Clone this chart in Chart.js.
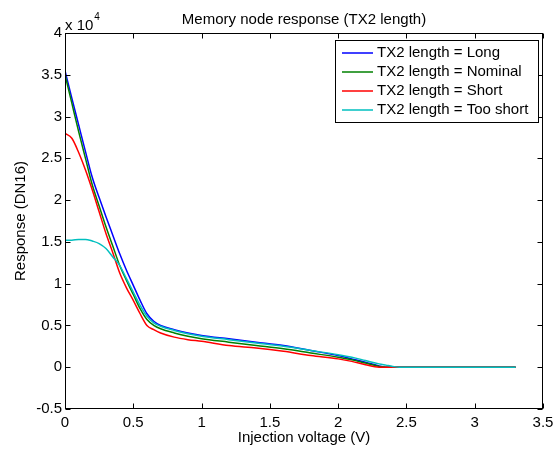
<!DOCTYPE html>
<html>
<head>
<meta charset="utf-8">
<script src="https://cdn.jsdelivr.net/npm/chart.js@4/dist/chart.umd.min.js"></script>
<style>
  html, body { margin: 0; padding: 0; background: #fff; }
</style>
</head>
<body>
<canvas id="chart" width="560" height="449"></canvas>
<script>
// Injection voltage (V)
const voltage = [0, 0.05, 0.1, 0.15, 0.2, 0.25, 0.3, 0.35, 0.4, 0.45, 0.5, 0.55, 0.6, 0.65, 0.7, 0.8, 0.9, 1.0,
                 1.2, 1.4, 1.6, 1.8, 2.0, 2.1, 2.2, 2.3, 2.35, 2.4, 2.45, 2.5, 3.0, 3.3];

// Response (DN16), in units of 1e4
const respLong     = [3.55, 3.22, 2.9, 2.58, 2.27, 2.03, 1.8, 1.58, 1.36, 1.16, 0.98, 0.8, 0.64, 0.55, 0.5, 0.45, 0.41, 0.38,
                      0.34, 0.30, 0.26, 0.20, 0.14, 0.10, 0.06, 0.015, 0, 0, 0, 0, 0, 0];
const respNominal  = [3.5, 3.16, 2.82, 2.5, 2.18, 1.93, 1.68, 1.45, 1.22, 1.04, 0.87, 0.70, 0.57, 0.50, 0.46, 0.41, 0.37, 0.34,
                      0.30, 0.26, 0.22, 0.17, 0.12, 0.09, 0.05, 0.01, 0, 0, 0, 0, 0, 0];
const respShort    = [2.8, 2.74, 2.57, 2.36, 2.12, 1.86, 1.6, 1.37, 1.13, 0.95, 0.8, 0.64, 0.50, 0.45, 0.41, 0.36, 0.33, 0.31,
                      0.26, 0.23, 0.19, 0.14, 0.10, 0.07, 0.03, 0, 0, 0, 0, 0, 0, 0];
const respTooShort = [1.52, 1.52, 1.53, 1.53, 1.51, 1.48, 1.42, 1.32, 1.22, 1.06, 0.9, 0.74, 0.61, 0.53, 0.49, 0.44, 0.40, 0.37,
                      0.33, 0.29, 0.25, 0.20, 0.15, 0.12, 0.08, 0.04, 0.025, 0.01, 0, 0, 0, 0];

const seriesLabels = ['TX2 length = Long', 'TX2 length = Nominal', 'TX2 length = Short', 'TX2 length = Too short'];
const seriesColors = ['#0000ff', '#008000', '#ff0000', '#00bfbf'];

const FONT = 'Arial, "Liberation Sans", Helvetica, sans-serif';
const FS = 15;

function toPoints(ys) {
    return voltage.map((v, i) => ({ x: v, y: ys[i] }));
}

// boite + graduations vers l'interieur, titre, legende
const matlabAxes = {
    id: 'matlabAxes',
    afterDraw(chart) {
        const { ctx, chartArea: a, scales: { x, y } } = chart;
        ctx.save();
        ctx.strokeStyle = '#000';
        ctx.lineWidth = 1;
        const L = Math.round(a.left) + 0.5, R = Math.round(a.right) - 0.5;
        const T = Math.round(a.top) + 0.5, B = Math.round(a.bottom) - 0.5;
        ctx.strokeRect(L, T, R - L, B - T);

        const tl = 5;
        ctx.beginPath();
        x.ticks.forEach(t => {
            const px = Math.round(x.getPixelForValue(t.value)) + 0.5;
            ctx.moveTo(px, B); ctx.lineTo(px, B - tl);
            ctx.moveTo(px, T); ctx.lineTo(px, T + tl);
        });
        y.ticks.forEach(t => {
            const py = Math.round(y.getPixelForValue(t.value)) + 0.5;
            ctx.moveTo(L, py); ctx.lineTo(L + tl, py);
            ctx.moveTo(R, py); ctx.lineTo(R - tl, py);
        });
        ctx.stroke();

        // titre
        ctx.fillStyle = '#000';
        ctx.font = FS + 'px ' + FONT;
        ctx.textAlign = 'center';
        ctx.textBaseline = 'alphabetic';
        ctx.fillText('Memory node response (TX2 length)', (a.left + a.right) / 2, 24);

        // multiplicateur
        ctx.textAlign = 'left';
        ctx.fillText('x 10', a.left, 30);
        const w = ctx.measureText('x 10').width;
        ctx.font = '10px ' + FONT;
        ctx.fillText('4', a.left + w + 1, 20);

        // legende
        const bx = 335.5, by = 40.5, bw = 203, bh = 82;
        ctx.fillStyle = '#fff';
        ctx.fillRect(bx, by, bw, bh);
        ctx.strokeRect(bx, by, bw, bh);
        ctx.font = FS + 'px ' + FONT;
        ctx.textBaseline = 'middle';
        chart.data.datasets.forEach((ds, i) => {
            const cy = 53 + i * 19;
            ctx.strokeStyle = ds.borderColor;
            ctx.lineWidth = 1.5;
            ctx.beginPath();
            ctx.moveTo(342, cy); ctx.lineTo(373, cy);
            ctx.stroke();
            ctx.fillStyle = '#000';
            ctx.fillText(ds.label, 377, cy);
        });
        ctx.restore();
    }
};

new Chart(document.getElementById('chart'), {
    type: 'line',
    data: {
        datasets: [respLong, respNominal, respShort, respTooShort].map((ys, i) => ({
            label: seriesLabels[i],
            data: toPoints(ys),
            borderColor: seriesColors[i],
            backgroundColor: seriesColors[i],
            borderWidth: 1.5,
            pointRadius: 0,
            fill: false,
            cubicInterpolationMode: 'monotone',
            order: 3 - i
        }))
    },
    options: {
        responsive: false,
        animation: false,
        layout: { padding: { top: 33, right: 17, left: 0, bottom: 0 } },
        plugins: {
            legend: { display: false },
            tooltip: { enabled: false },
            title: { display: false }
        },
        scales: {
            x: {
                type: 'linear',
                min: 0,
                max: 3.5,
                grid: { display: false, drawTicks: false },
                border: { display: false },
                ticks: {
                    stepSize: 0.5,
                    autoSkip: false,
                    maxRotation: 0,
                    padding: 5,
                    color: '#000',
                    font: { family: FONT, size: FS },
                    callback: v => String(v)
                },
                title: {
                    display: true,
                    text: 'Injection voltage (V)',
                    color: '#000',
                    font: { family: FONT, size: FS },
                    padding: { top: 0, bottom: 2 }
                },
                afterFit: s => { s.height = 40; }
            },
            y: {
                min: -0.5,
                max: 4,
                grid: { display: false, drawTicks: false },
                border: { display: false },
                ticks: {
                    stepSize: 0.5,
                    autoSkip: false,
                    padding: 3,
                    color: '#000',
                    font: { family: FONT, size: FS },
                    callback: v => String(v)
                },
                title: {
                    display: true,
                    text: 'Response (DN16)',
                    color: '#000',
                    font: { family: FONT, size: FS },
                    padding: { top: 12, bottom: 0 }
                },
                afterFit: s => { s.width = 65; }
            }
        }
    },
    plugins: [matlabAxes]
});
</script>
</body>
</html>
